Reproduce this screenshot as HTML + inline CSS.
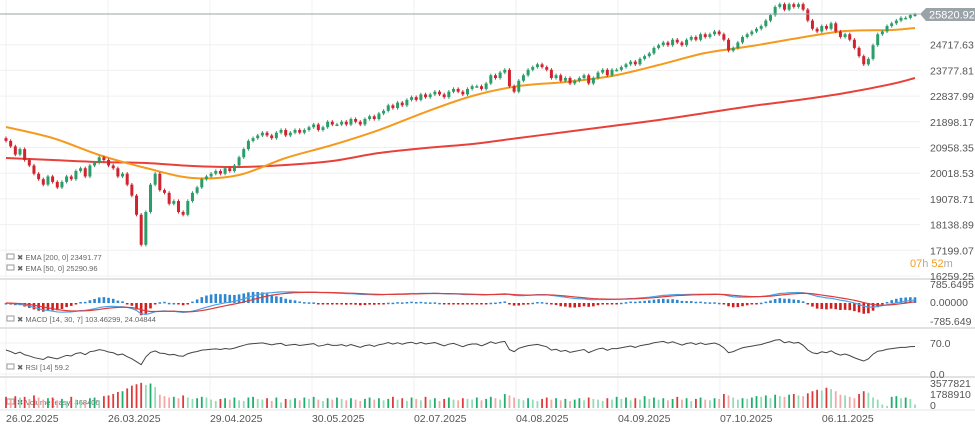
<!DOCTYPE html>
<html><head><meta charset="utf-8">
<style>
html,body{margin:0;padding:0;background:#fff;}
svg{display:block;font-family:"Liberation Sans",sans-serif;}
</style></head>
<body>
<svg id="c" width="975" height="427" viewBox="0 0 975 427"></svg>
<script>
const closesK=[21.2,21.0,20.7,20.9,20.5,20.3,20.0,19.8,19.6,19.9,19.7,
19.5,19.7,19.9,19.8,20.1,20.2,19.9,20.3,20.4,20.6,
20.5,20.3,20.2,19.9,20.0,19.6,19.2,18.5,17.4,18.6,
19.6,20.0,19.4,19.3,18.9,19.0,18.6,18.5,19.0,19.3,
19.5,19.8,19.9,20.0,20.1,20.0,20.2,20.1,20.3,20.6,
20.9,21.2,21.3,21.4,21.5,21.4,21.3,21.5,21.6,21.4,
21.5,21.6,21.5,21.6,21.7,21.8,21.6,21.7,21.9,21.8,
21.8,21.9,21.8,22.0,21.9,21.8,22.0,22.1,22.0,22.2,
22.3,22.5,22.4,22.6,22.5,22.7,22.8,22.7,22.9,22.8,
22.9,23.0,22.9,22.8,23.0,23.1,23.0,22.9,23.1,23.2,
23.2,23.1,23.3,23.6,23.5,23.7,23.8,23.2,23.0,23.4,
23.6,23.8,23.9,24.0,23.9,23.8,23.5,23.6,23.4,23.5,
23.3,23.4,23.5,23.6,23.3,23.5,23.7,23.8,23.6,23.8,
23.8,23.9,24.0,24.1,24.0,24.2,24.3,24.4,24.6,24.7,
24.8,24.7,24.9,24.8,24.7,24.9,25.0,24.9,25.1,25.0,
25.1,25.2,25.1,24.9,24.5,24.6,24.8,25.0,25.1,25.2,
25.3,25.4,25.6,25.8,26.1,26.2,26.0,26.2,26.1,26.2,
26.0,25.6,25.3,25.2,25.4,25.3,25.5,25.2,25.0,25.1,
24.9,24.6,24.3,24.0,24.2,24.7,25.1,25.2,25.4,25.5,
25.6,25.7,25.7,25.8,25.82];
const volumesM=[1.6,1.2,1.7,1.5,1.6,1.3,1.8,1.5,1.2,1.4,1.5,1.1,1.3,0.9,1.6,1.2,1.0,0.8,1.4,1.5,
1.1,1.7,1.8,2.0,2.3,2.4,2.8,3.2,3.4,3.6,3.3,3.5,3.0,1.9,1.7,1.5,1.6,1.4,1.8,1.5,
1.3,1.4,1.6,1.5,1.2,1.0,1.3,1.4,1.2,1.5,1.1,1.0,1.5,1.6,1.3,1.2,1.4,1.0,1.5,0.8,
1.3,1.2,1.4,1.1,1.5,1.3,1.6,1.2,1.0,1.4,1.2,1.5,1.3,1.1,1.4,1.2,1.0,1.3,1.5,1.2,
1.4,1.1,1.3,1.6,1.2,1.4,1.0,1.5,1.3,1.1,1.6,1.2,1.4,1.0,1.3,1.5,1.2,1.1,1.4,1.3,
1.2,1.5,1.1,1.3,1.6,1.4,1.2,2.0,1.8,1.5,1.3,1.1,1.4,1.2,1.0,1.3,1.5,1.2,1.4,1.1,
1.3,1.0,1.2,1.4,1.1,1.5,1.3,1.2,1.0,1.4,1.2,1.6,1.3,1.5,1.1,1.4,1.2,1.7,1.3,1.5,
1.2,1.4,1.1,1.3,1.6,1.2,1.4,1.0,1.3,1.5,1.2,1.1,1.4,1.3,2.0,1.8,1.5,1.2,1.4,1.3,
1.5,1.7,1.6,1.8,1.4,1.9,1.7,1.6,1.9,2.0,1.8,1.7,2.1,2.4,2.6,2.5,2.9,2.7,2.4,1.9,
1.8,1.6,1.4,2.0,2.4,2.2,1.5,1.2,0.5,0.3,1.6,1.7,1.4,1.5,1.3,0.5];
const ema200Idx=[0,10,20,30,40,50,60,70,80,90,100,110,120,130,140,150,160,170,180,190,195];
const ema200Vals=[20574,20501,20428,20391,20282,20245,20318,20465,20757,20940,21086,21306,21525,21745,21964,22220,22476,22695,22951,23280,23500];
const ema50Vals=[21708,21306,20684,20209,19843,19953,20574,21050,21598,22256,22842,23207,23354,23573,23975,24414,24670,24963,25219,25255,25328];
const priceTicks=[24717.63,23777.81,22837.99,21898.17,20958.35,20018.53,19078.71,18138.89,17199.07,16259.25];
const dateLabels=["26.02.2025","26.03.2025","29.04.2025","30.05.2025","02.07.2025","04.08.2025","04.09.2025","07.10.2025","06.11.2025"];
const dateIdx=[0,22,44,66,88,110,132,154,176];

const NS="http://www.w3.org/2000/svg";
const svg=document.getElementById('c');
function el(t,a,parent){const e=document.createElementNS(NS,t);for(const k in a)e.setAttribute(k,a[k]);(parent||svg).appendChild(e);return e;}
const closes=closesK.map(v=>v*1000);
const N=closes.length;
const X=i=>6+i*(909/(N-1));
const yP=p=>276-(p-16259.25)/36.57;
const yM=v=>Math.max(281,Math.min(326,303-v*18/785.65));
const yR=v=>374-v*0.443;
const yV=v=>408-v/3.577821*25;

const grid=el('g',{});


priceTicks.forEach(p=>{el('line',{x1:0,x2:920,y1:yP(p),y2:yP(p),stroke:'#f0f0f0','stroke-width':1},grid);});
dateIdx.forEach(i=>{const x=6+i*4.636;el('line',{x1:x,x2:x,y1:0,y2:410,stroke:'#f0f0f0','stroke-width':1},grid);});
[343,374].forEach(y=>el('line',{x1:0,x2:920,y1:y,y2:y,stroke:'#f0f0f0'},grid));
[279,328,377].forEach(y=>{const s=el('rect',{x:0,y:y-1,width:975,height:2,fill:'#e2e2e2'});

});
el('line',{x1:0,x2:975,y1:410,y2:410,stroke:'#e6e6e6'});

function smoothPath(pts){let d='M'+pts[0][0]+' '+pts[0][1];
 for(let i=0;i<pts.length-1;i++){const p0=pts[Math.max(0,i-1)],p1=pts[i],p2=pts[i+1],p3=pts[Math.min(pts.length-1,i+2)];
 const c1=[p1[0]+(p2[0]-p0[0])/6,p1[1]+(p2[1]-p0[1])/6],c2=[p2[0]-(p3[0]-p1[0])/6,p2[1]-(p3[1]-p1[1])/6];
 d+=' C'+c1[0]+' '+c1[1]+' '+c2[0]+' '+c2[1]+' '+p2[0]+' '+p2[1];}
 return d;}
function curve(vals,col,name){const pts=ema200Idx.map((i,k)=>[X(i),yP(vals[k])]);
const p=el('path',{d:smoothPath(pts),fill:'none',stroke:col,'stroke-width':2});

}
curve(ema200Vals,'#e8413a','ema-200-line');
curve(ema50Vals,'#f59a1c','ema-50-line');

const cg=el('g',{});


for(let i=0;i<N;i++){
 const c=closes[i],o=i?closes[i-1]:c+100;
 const up=c>=o,col=up?'#2c9c68':'#d1232f';
 const hi=Math.max(o,c)+60,lo=Math.min(o,c)-60;
 const x=X(i);
 el('line',{x1:x,x2:x,y1:yP(hi),y2:yP(lo),stroke:col,'stroke-width':1},cg);
 const t=yP(Math.max(o,c)),b=yP(Math.min(o,c));
 const r=el('rect',{x:x-1.5,y:t,width:3,height:Math.max(1.5,b-t),fill:col},cg);
 
 
}
el('line',{x1:0,x2:920,y1:14,y2:14,stroke:'#9aa3a8','stroke-width':1});
const tag=el('g',{});


el('path',{d:'M920 14 L926 8 L975 8 L975 21 L926 21 Z',fill:'#9aa3a8'},tag);
const tt=el('text',{x:929,y:18.5,'font-size':11,fill:'#fff'},tag);tt.textContent='25820.92';

priceTicks.forEach(p=>{const t=el('text',{x:930,y:yP(p)+4,'font-size':10.5,fill:'#555'});t.textContent=p.toFixed(2);

});
const cd=el('text',{x:910,y:267,'font-size':11,fill:'#f59a1c'});


cd.innerHTML='07<tspan fill="#aaa">h</tspan> 52<tspan fill="#aaa">m</tspan>';

function legend(y,txt,name){const g=el('g',{});
el('rect',{x:7,y:y-6,width:7,height:5,fill:'none',stroke:'#999','stroke-width':1},g);
const t=el('text',{x:17,y:y,'font-size':7.5,fill:'#666'},g);t.textContent='✖ '+txt;}
legend(260,'EMA [200, 0] 23491.77','ema-200-legend');
legend(271,'EMA [50, 0] 25290.96','ema-50-legend');
legend(322,'MACD [14, 30, 7] 103.46299, 24.04844','macd-legend');
legend(370,'RSI [14] 59.2','rsi-legend');
legend(405,'Volume [easy] 468406','volume-legend');

function emaArr(a,n){const k=2/(n+1);const r=[];let e=a[0];a.forEach(v=>{e=v*k+e*(1-k);r.push(e);});return r;}
const e14=emaArr(closes,14),e30=emaArr(closes,30);
const macd=e14.map((v,i)=>v-e30[i]);
const sig=emaArr(macd,7);
const mg=el('g',{});


for(let i=0;i<N;i++){const h=(macd[i]-sig[i])*3;const y0=303,y1=yM(h);
 el('rect',{x:X(i)-1.3,y:Math.min(y0,y1),width:2.6,height:Math.max(1.5,Math.abs(y1-y0)),fill:h>=0?'#2f86d0':'#d01f1f'},mg);}
const ml=el('polyline',{points:macd.map((v,i)=>X(i)+','+yM(v)).join(' '),fill:'none',stroke:'#4aa3e6','stroke-width':1.2});

const sl=el('polyline',{points:sig.map((v,i)=>X(i)+','+yM(v)).join(' '),fill:'none',stroke:'#e03a3a','stroke-width':1.2});

[['785.6495',288],['0.00000',306],['-785.649',325]].forEach(a=>{const t=el('text',{x:930,y:a[1],'font-size':10.5,fill:'#555'});t.textContent=a[0];
});

let ag=130,al=110;const rsi=[];
for(let i=0;i<N;i++){const d=i?closes[i]-closes[i-1]:0;
 ag=(ag*13+Math.max(d,0))/14;al=(al*13+Math.max(-d,0))/14;
 rsi.push(100-100/(1+ag/al));}
const rl=el('polyline',{points:rsi.map((v,i)=>X(i)+','+yR(v)).join(' '),fill:'none',stroke:'#444','stroke-width':1});

[['70.0',347],['0.0',378]].forEach(a=>{const t=el('text',{x:930,y:a[1],'font-size':10.5,fill:'#555'});t.textContent=a[0];
});

const vg=el('g',{});


for(let i=0;i<N;i++){const up=i?closes[i]>=closes[i-1]:false;const strong=i?volumesM[i]>=volumesM[i-1]:true;
 const col=up?(strong?'#1fae6e':'#93dcb8'):(strong?'#e03a3a':'#f3a8a8');
 const y=yV(volumesM[i]);el('rect',{x:X(i)-0.9,y:y,width:1.8,height:408-y,fill:col},vg);}
[['3577821',387],['1788910',398],['0',409]].forEach(a=>{const t=el('text',{x:930,y:a[1],'font-size':10.5,fill:'#555'});t.textContent=a[0];
});

dateLabels.forEach((d,k)=>{const t=el('text',{x:6+dateIdx[k]*4.636,y:422,'font-size':10.5,fill:'#555'});t.textContent=d;
});
</script>
</body></html>
